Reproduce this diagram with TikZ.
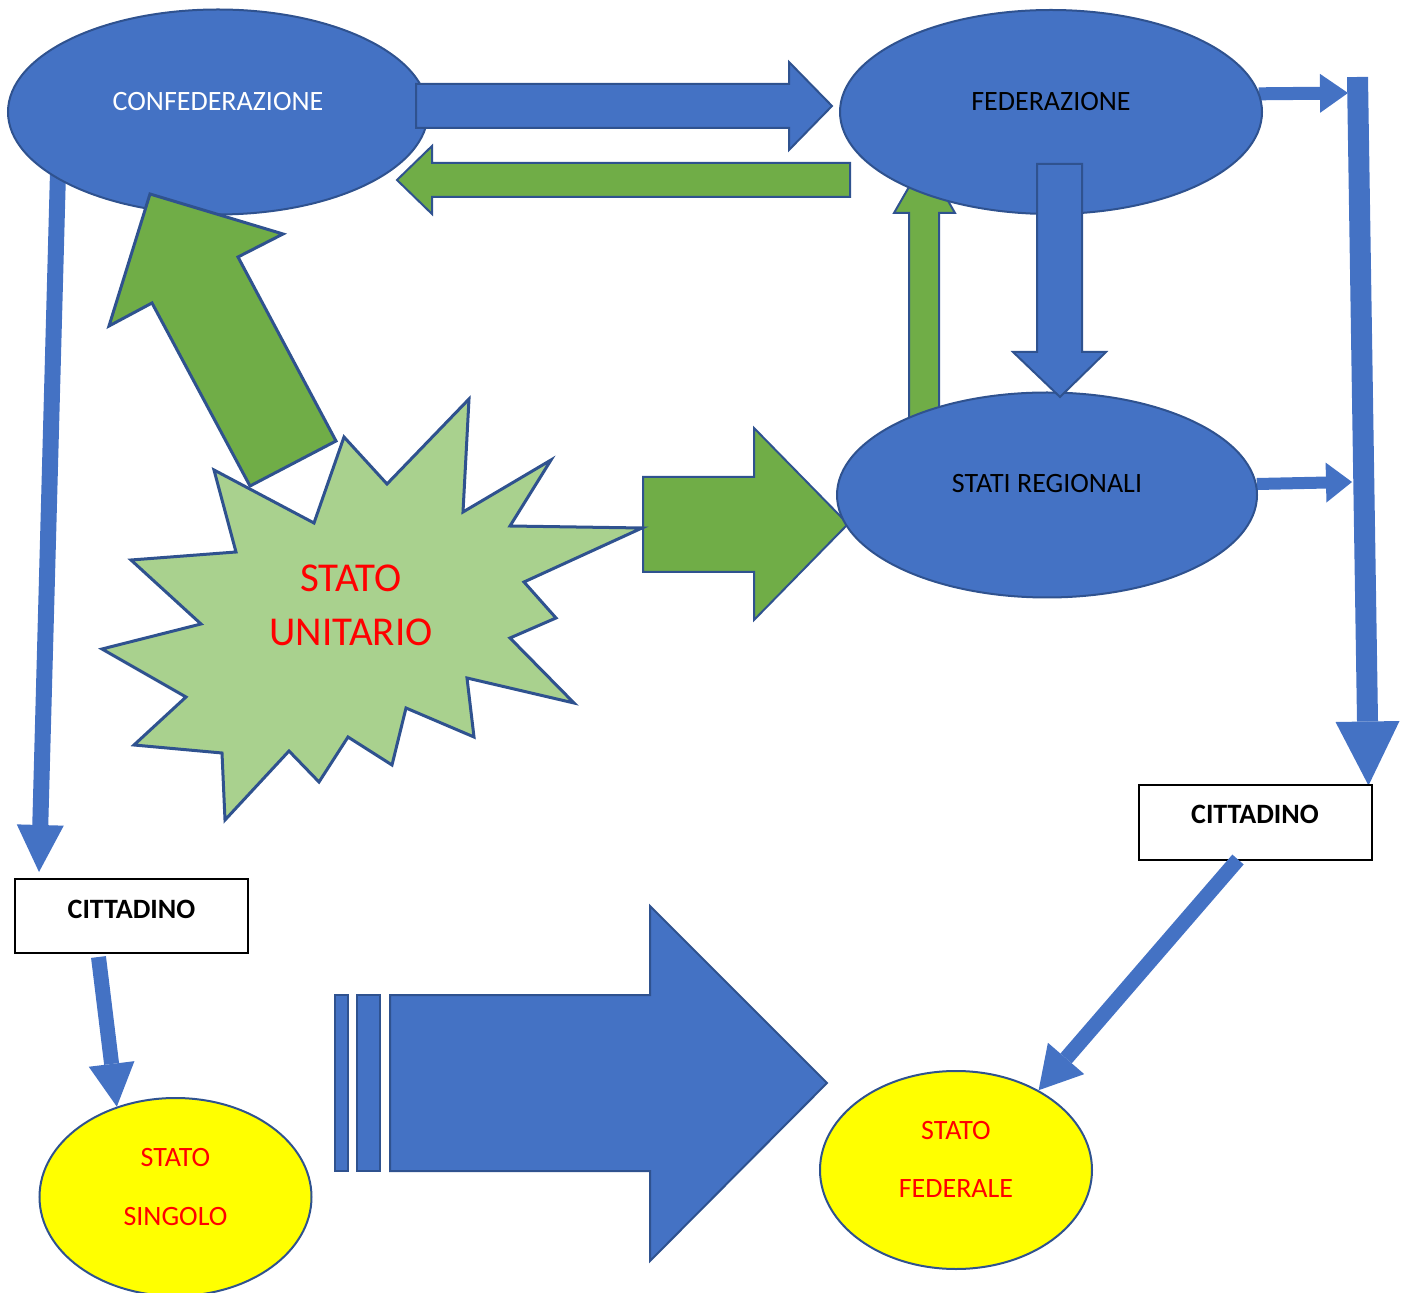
\documentclass[tikz,border=0pt]{standalone}
\usepackage{fontspec}
\setmainfont{Carlito}
\usetikzlibrary{arrows.meta,shapes.geometric}

\definecolor{accblue}{HTML}{4472C4}
\definecolor{edgeblue}{HTML}{2F528F}
\definecolor{accgreen}{HTML}{70AD47}
\definecolor{palegreen}{HTML}{A9D18E}
\definecolor{hiyellow}{HTML}{FFFF00}
\definecolor{hired}{HTML}{FF0000}

\tikzset{
  bigoval/.style={ellipse, draw=edgeblue, fill=accblue, line width=1pt,
    inner sep=0pt, minimum width=210pt, minimum height=102.5pt},
  smalloval/.style={ellipse, draw=edgeblue, fill=hiyellow, line width=1pt,
    inner sep=0pt, minimum width=136pt, minimum height=99pt},
  citbox/.style={rectangle, draw=black, fill=white, line width=1pt,
    inner sep=0pt, minimum width=116.5pt, minimum height=37pt},
  ovaltext/.style={inner sep=0pt, font=\fontsize{14}{17}\selectfont},
  yellowtext/.style={inner sep=0pt, align=center, text=hired},
  boxtext/.style={inner sep=0pt, font=\fontsize{14}{17}\selectfont\bfseries},
  bluebody/.style={draw=edgeblue, fill=accblue, line width=1pt, line join=miter},
  greenbody/.style={draw=edgeblue, fill=accgreen, line width=1pt, line join=miter},
  link/.style={draw=accblue, line width=#1},
  linktip/.style n args={2}{-{Triangle[length=#1,width=#2,line width=0pt]}},
}

\begin{document}
\begin{tikzpicture}[x=0.5pt,y=-0.5pt]
\useasboundingbox (0,0) rectangle (1403,1293);

% ends of the links on the right-hand vertical bar
\coordinate (busTop) at (1357.5,77);
\coordinate (busA) at (1348,93);
\coordinate (busB) at (1352,482);

% node positions (drawn later, but needed by the links underneath)
\path
  (218,112)  node[bigoval, draw=none, fill=none] (conf) {}
  (1051,112) node[bigoval, draw=none, fill=none] (fed) {}
  (1047,495) node[bigoval, draw=none, fill=none] (reg) {}
  (131.5,916) node[citbox, draw=none, fill=none] (citL) {}
  (1255,822.5) node[citbox, draw=none, fill=none] (citR) {};

% thin links that pass under the ovals
\draw[link=10.5pt, linktip={32pt}{32pt}] (busTop) -- ([shift={(-4,1)}]citR.north east);
\draw[link=6.5pt, linktip={14pt}{19.5pt}] (fed.5) -- (busA);
\draw[link=6pt, linktip={13pt}{20pt}] (reg.3) -- (busB);
\draw[link=8pt, linktip={23.5pt}{23.5pt}]
  ([shift={(-160,60)}]conf.center) -- ([shift={(25,-6)}]citL.north west);

% green arrows lying under the ovals
\draw[greenbody] (909,420) -- (909,213) -- (894,213) -- (924.5,160) -- (955,213)
  -- (939,213) -- (939,420) -- cycle;
\draw[greenbody] (643,477) -- (754,477) -- (754,428) -- (848,524) -- (754,620)
  -- (754,572) -- (643,572) -- cycle;

% the three blue ovals
\node[bigoval] at (conf) {};
\node[bigoval, minimum width=211pt, minimum height=102pt] at (fed) {};
\node[bigoval] at (reg) {};
\node[ovaltext, text=white] (conf-t) at ([yshift=5pt]conf.center) {CONFEDERAZIONE};
\node[ovaltext] (fed-t) at ([yshift=5.25pt]fed.center) {FEDERAZIONE};
\node[ovaltext] (reg-t) at ([yshift=5.5pt]reg.center) {STATI REGIONALI};

% block arrows between the ovals
\draw[bluebody] (416,84) -- (789,84) -- (789,62) -- (832,106) -- (789,150)
  -- (789,128) -- (416,128) -- cycle;
\draw[greenbody] (850,163) -- (432,163) -- (432,146) -- (397,180) -- (432,214)
  -- (432,197) -- (850,197) -- cycle;
\draw[bluebody] (1037,164) -- (1082,164) -- (1082,352) -- (1106,352) -- (1060,397)
  -- (1013,352) -- (1037,352) -- cycle;

% starburst of the unitary state
\draw[draw=edgeblue, fill=palegreen, line width=1.5pt, line join=miter]
  (469,399) -- (463,512) -- (551,460) -- (510,526) -- (642,528) -- (524,582)
  -- (556,618) -- (510,638) -- (574,703) -- (467,678) -- (474,737) -- (406,708)
  -- (392,765) -- (348,737) -- (319,782) -- (289,751) -- (225,820) -- (222,753)
  -- (134,745) -- (186,697) -- (102,649) -- (201,624) -- (131,560) -- (236,552)
  -- (214,470) -- (314,523) -- (344,437) -- (387,484) -- cycle;
\node[inner sep=0pt, align=center, text=hired,
  font=\fontsize{20.5}{27}\selectfont] (unit) at (351,605) {STATO\\UNITARIO};

% big green arrow towards the confederation
\draw[greenbody, line width=1.5pt] (150,194) -- (283,234) -- (238,257) -- (336,441)
  -- (250,486) -- (152,303) -- (109,326) -- cycle;

% citizen boxes
\node[citbox] at (citL) {};
\node[citbox] at (citR) {};
\node[boxtext] (citL-t) at ([yshift=3.3pt]citL.center) {CITTADINO};
\node[boxtext] (citR-t) at ([yshift=4.2pt]citR.center) {CITTADINO};

% resulting states
\node[smalloval] (sing) at (175.5,1197) {};
\node[smalloval] (fedst) at (956,1170) {};
\node[yellowtext, font=\fontsize{14}{29.5}\selectfont] (sing-t)
  at ([yshift=4.75pt]sing.center) {STATO\\SINGOLO};
\node[yellowtext, font=\fontsize{14}{29}\selectfont] (fedst-t)
  at ([yshift=5.3pt]fedst.center) {STATO\\FEDERALE};

% links from the citizens to the states
\draw[link=7.5pt, linktip={21.5pt}{23pt}] ([shift={(-33,3)}]citL.south) -- (sing.123);
\draw[link=7.5pt, linktip={21pt}{24pt}] ([shift={(-17,-1)}]citR.south) -- (fedst.44);

% striped arrow between the two states
\draw[bluebody] (335,995) rectangle (348,1171);
\draw[bluebody] (357,995) rectangle (380,1171);
\draw[bluebody] (390,995) -- (650,995) -- (650,906) -- (827,1083) -- (650,1261)
  -- (650,1171) -- (390,1171) -- cycle;
\end{tikzpicture}
\end{document}
